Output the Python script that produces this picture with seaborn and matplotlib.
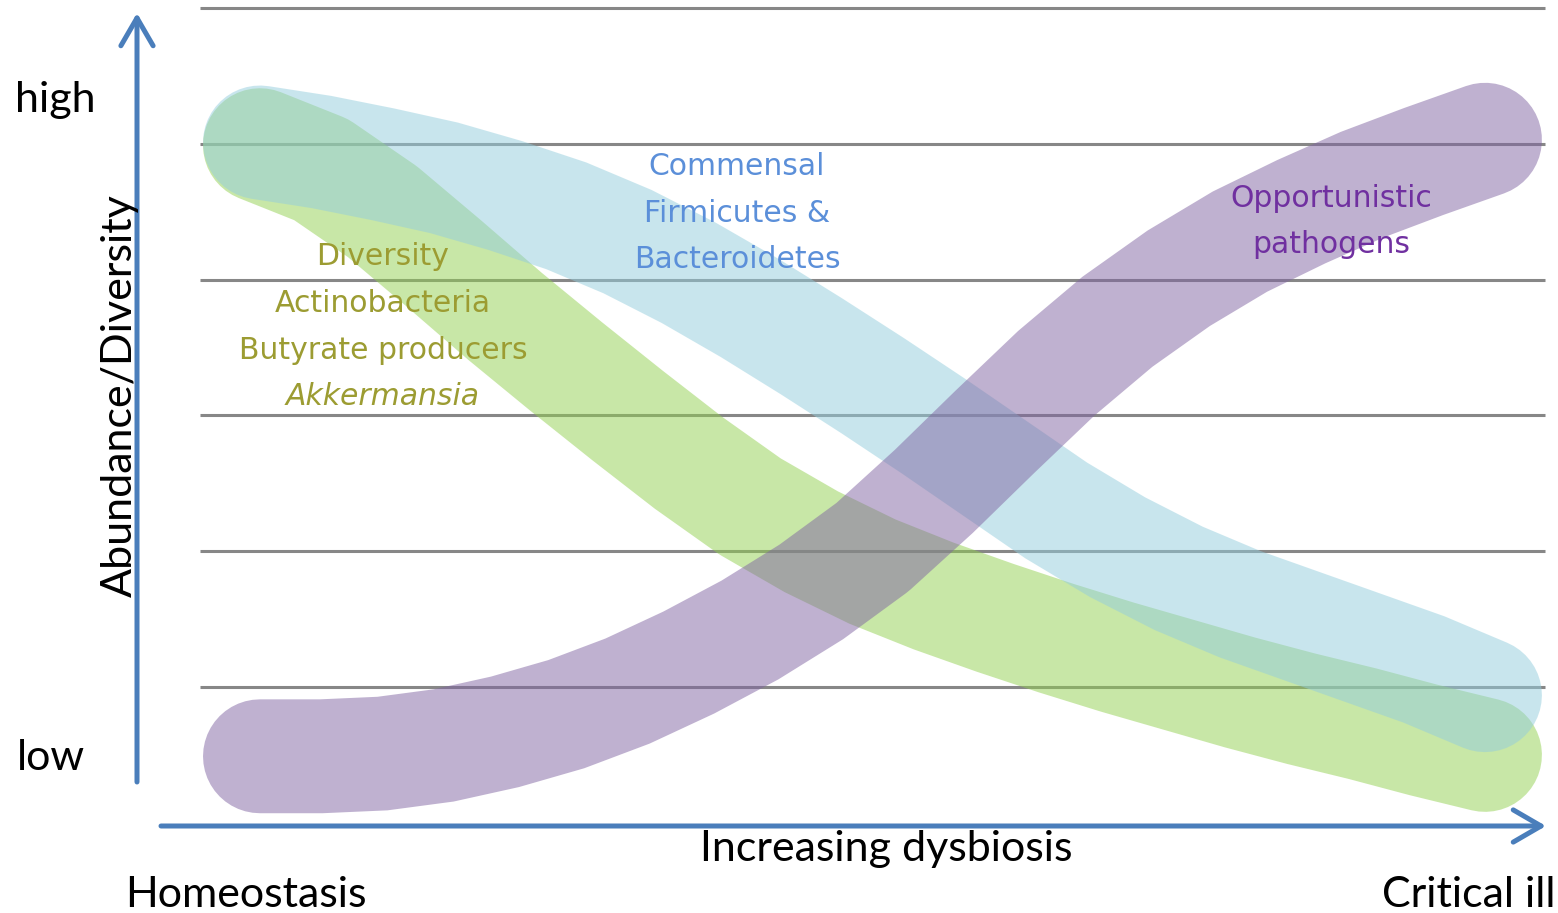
import matplotlib
matplotlib.use("Agg")
import matplotlib.pyplot as plt
import pandas as pd
import seaborn as sns

# Position along the dysbiosis axis: 0 = homeostasis, 100 = critical illness
dysbiosis = [0, 5, 10, 15, 20, 25, 30, 35, 40, 45, 50,
             55, 60, 65, 70, 75, 80, 85, 90, 95, 100]

# Relative abundance / diversity of each group (arbitrary units, gridlines at 0..5)
diversity = [3.99, 3.81, 3.50, 3.12, 2.73, 2.36, 2.00, 1.65, 1.33, 1.07, 0.85,
             0.67, 0.51, 0.36, 0.22, 0.09, -0.04, -0.16, -0.27, -0.39, -0.50]
commensal = [4.01, 3.94, 3.85, 3.75, 3.62, 3.47, 3.28, 3.05, 2.79, 2.51, 2.22,
             1.92, 1.61, 1.30, 1.03, 0.80, 0.61, 0.45, 0.29, 0.13, -0.06]
pathogens = [-0.51, -0.51, -0.49, -0.43, -0.33, -0.20, -0.03, 0.18, 0.42, 0.70, 1.03,
             1.44, 1.88, 2.31, 2.69, 3.01, 3.28, 3.50, 3.70, 3.87, 4.03]

grid_levels = [0, 1, 2, 3, 4, 5]

band_labels = {
    "diversity": ["Diversity", "Actinobacteria", "Butyrate producers", "Akkermansia"],
    "commensal": ["Commensal", "Firmicutes &", "Bacteroidetes"],
    "pathogens": ["Opportunistic", "pathogens"],
}

df = pd.DataFrame({"dysbiosis": dysbiosis, "diversity": diversity,
                   "commensal": commensal, "pathogens": pathogens})

sns.set_theme(style="white")
plt.rcParams["font.family"] = ["Lato", "DejaVu Sans"]

W, H = 1558, 913
fig = plt.figure(figsize=(W / 100, H / 100), dpi=100)
ax = fig.add_axes([0, 0, 1, 1])


def at(px, py):
    """Figure-fraction position from a pixel offset measured from the top-left."""
    return px / W, 1 - py / H


# horizontal reference lines
ax.hlines(grid_levels, -4.9, 104.9, color="#878787", linewidth=2.2, zorder=1)

# broad translucent bands, drawn green -> blue -> purple
band_style = dict(linewidth=82, alpha=0.5, solid_capstyle="round",
                  solid_joinstyle="round", sort=False, estimator=None, legend=False)
sns.lineplot(data=df, x="dysbiosis", y="diversity", ax=ax, color="#92d050",
             zorder=2, **band_style)
sns.lineplot(data=df, x="dysbiosis", y="commensal", ax=ax, color="#93cddd",
             zorder=3, **band_style)
sns.lineplot(data=df, x="dysbiosis", y="pathogens", ax=ax, color="#8064a2",
             zorder=4, **band_style)
ax.set_xlim(-21.22, 105.96)
ax.set_ylim(-1.664, 5.059)
ax.axis("off")

# axis arrows
axis_blue = "#4a7ebb"
arrow = dict(arrowstyle="->,head_length=1.0,head_width=0.58", mutation_scale=20,
             color=axis_blue, linewidth=3.6, shrinkA=0, shrinkB=0)
fig.add_artist(matplotlib.patches.FancyArrowPatch(
    at(137, 782), at(137, 13), transform=fig.transFigure, **arrow))
fig.add_artist(matplotlib.patches.FancyArrowPatch(
    at(161, 826), at(1546, 826), transform=fig.transFigure, **arrow))

# axis wording
big = 31
fig.text(*at(15, 112), "high", fontsize=big, ha="left", va="baseline", color="black")
fig.text(*at(17, 770), "low", fontsize=big, ha="left", va="baseline", color="black")
fig.text(*at(125, 907), "Homeostasis", fontsize=big, ha="left", va="baseline", color="black")
fig.text(*at(1555, 907), "Critical ill", fontsize=big, ha="right", va="baseline", color="black")
fig.text(*at(886, 861), "Increasing dysbiosis", fontsize=big, ha="center", va="baseline",
         color="black")
fig.text(*at(132, 396), "Abundance/Diversity", fontsize=big, rotation=90,
         rotation_mode="anchor", ha="center", va="baseline", color="black")

# band labels
small = 21.5
label_font = ["DejaVu Sans"]
for text, py in zip(band_labels["commensal"], [175, 222, 268]):
    fig.text(*at(737, py), text, fontsize=small, family=label_font, color="#5b8fd9",
             ha="center", va="baseline")
for text, py in zip(band_labels["diversity"], [265, 312, 359, 405]):
    fig.text(*at(383, py), text, fontsize=small, family=label_font, color="#9c9c32",
             ha="center", va="baseline",
             style="italic" if text == "Akkermansia" else "normal")
for text, py in zip(band_labels["pathogens"], [207, 253]):
    fig.text(*at(1331, py), text, fontsize=small, family=label_font, color="#7030a0",
             ha="center", va="baseline")

fig.savefig("out.png", dpi=100)
